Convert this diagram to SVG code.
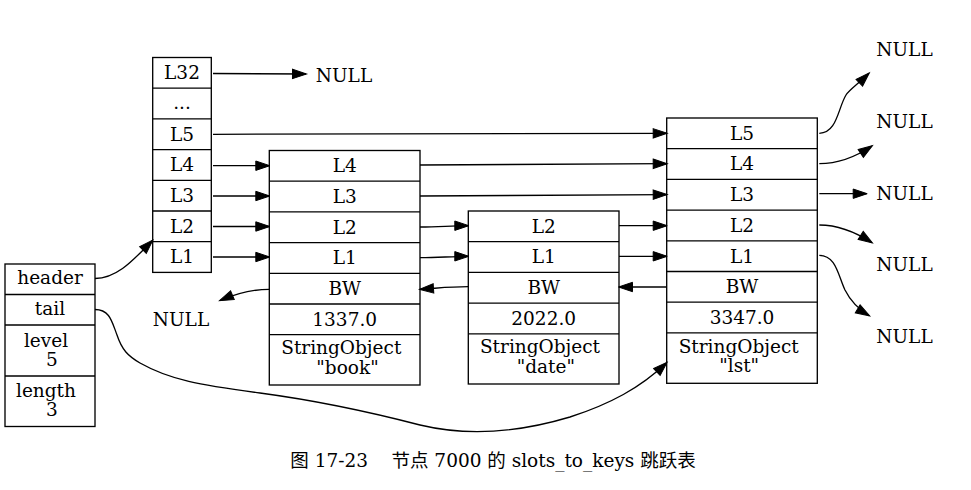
<svg xmlns="http://www.w3.org/2000/svg" width="971" height="490" viewBox="0 0 971 490">
<style>
.box{fill:none;stroke:#000;stroke-width:1.33}
.sep{stroke:#000;stroke-width:1.33}
.e{fill:none;stroke:#000;stroke-width:1.33}
text{font-family:"DejaVu Serif","Liberation Serif","Noto Sans CJK SC",serif;font-size:18.5px;fill:#000;text-anchor:middle}
.cap{white-space:pre}
</style>
<defs>
<marker id="arr" markerUnits="userSpaceOnUse" markerWidth="14" markerHeight="10" refX="13.5" refY="4.7" orient="auto" overflow="visible">
<path d="M0,0 L14,4.7 L0,9.4 z" fill="#000" stroke="#000" stroke-width="1"/>
</marker>
</defs>
<rect x="0" y="0" width="971" height="490" fill="#fff"/>

<g id="list">
<rect class="box" x="5" y="264" width="90" height="162.5"/>
<line class="sep" x1="5" y1="294.5" x2="95" y2="294.5"/>
<line class="sep" x1="5" y1="325" x2="95" y2="325"/>
<line class="sep" x1="5" y1="376" x2="95" y2="376"/>
<text x="50" y="284">header</text>
<text x="50" y="314.5">tail</text>
<text x="46" y="347">level</text>
<text x="52" y="365.5">5</text>
<text x="46" y="396.5">length</text>
<text x="52" y="415.5">3</text>
</g>

<g id="skiplist-header">
<rect class="box" x="152.7" y="57.5" width="58.6" height="214.9"/>
<line class="sep" x1="152.7" y1="88.2" x2="211.3" y2="88.2"/>
<line class="sep" x1="152.7" y1="118.9" x2="211.3" y2="118.9"/>
<line class="sep" x1="152.7" y1="149.6" x2="211.3" y2="149.6"/>
<line class="sep" x1="152.7" y1="180.3" x2="211.3" y2="180.3"/>
<line class="sep" x1="152.7" y1="211" x2="211.3" y2="211"/>
<line class="sep" x1="152.7" y1="241.7" x2="211.3" y2="241.7"/>
<text x="182" y="79.3">L32</text>
<text x="182" y="108.5">...</text>
<text x="182" y="140.7">L5</text>
<text x="182" y="171.4">L4</text>
<text x="182" y="202">L3</text>
<text x="182" y="232.7">L2</text>
<text x="182" y="263.4">L1</text>
</g>

<g id="node-book">
<rect class="box" x="269.3" y="150.5" width="150.7" height="234.5"/>
<line class="sep" x1="269.3" y1="181.2" x2="420" y2="181.2"/>
<line class="sep" x1="269.3" y1="211.9" x2="420" y2="211.9"/>
<line class="sep" x1="269.3" y1="242.6" x2="420" y2="242.6"/>
<line class="sep" x1="269.3" y1="273.3" x2="420" y2="273.3"/>
<line class="sep" x1="269.3" y1="304" x2="420" y2="304"/>
<line class="sep" x1="269.3" y1="334.7" x2="420" y2="334.7"/>
<text x="344.7" y="172.2">L4</text>
<text x="344.7" y="202.9">L3</text>
<text x="344.7" y="233.6">L2</text>
<text x="344.7" y="264.3">L1</text>
<text x="344.7" y="295">BW</text>
<text x="344.7" y="325.7">1337.0</text>
<text x="341.3" y="354.3">StringObject</text>
<text x="347.5" y="374">"book"</text>
</g>

<g id="node-date">
<rect class="box" x="468.3" y="211" width="150.7" height="173"/>
<line class="sep" x1="468.3" y1="241.7" x2="619" y2="241.7"/>
<line class="sep" x1="468.3" y1="272.4" x2="619" y2="272.4"/>
<line class="sep" x1="468.3" y1="303.1" x2="619" y2="303.1"/>
<line class="sep" x1="468.3" y1="333.8" x2="619" y2="333.8"/>
<text x="543.7" y="232.7">L2</text>
<text x="543.7" y="263.4">L1</text>
<text x="543.7" y="294.1">BW</text>
<text x="543.7" y="324.8">2022.0</text>
<text x="540" y="353.3">StringObject</text>
<text x="545.8" y="372.7">"date"</text>
</g>

<g id="node-lst">
<rect class="box" x="666.7" y="118" width="150.6" height="265.3"/>
<line class="sep" x1="666.7" y1="148.7" x2="817.3" y2="148.7"/>
<line class="sep" x1="666.7" y1="179.4" x2="817.3" y2="179.4"/>
<line class="sep" x1="666.7" y1="210.1" x2="817.3" y2="210.1"/>
<line class="sep" x1="666.7" y1="240.8" x2="817.3" y2="240.8"/>
<line class="sep" x1="666.7" y1="271.5" x2="817.3" y2="271.5"/>
<line class="sep" x1="666.7" y1="302.2" x2="817.3" y2="302.2"/>
<line class="sep" x1="666.7" y1="332.9" x2="817.3" y2="332.9"/>
<text x="742" y="139.7">L5</text>
<text x="742" y="170.4">L4</text>
<text x="742" y="201.1">L3</text>
<text x="742" y="231.8">L2</text>
<text x="742" y="262.5">L1</text>
<text x="742" y="293.2">BW</text>
<text x="742" y="323.9">3347.0</text>
<text x="738.7" y="352.7">StringObject</text>
<text x="739.2" y="372">"lst"</text>
</g>

<g id="null-l32"><text x="344" y="81.5">NULL</text></g>
<g id="null-bw"><text x="181" y="326">NULL</text></g>
<g id="null-r5"><text x="904.5" y="56">NULL</text></g>
<g id="null-r4"><text x="904.5" y="128.3">NULL</text></g>
<g id="null-r3"><text x="904.5" y="200">NULL</text></g>
<g id="null-r2"><text x="904.5" y="270.7">NULL</text></g>
<g id="null-r1"><text x="904.5" y="343.3">NULL</text></g>

<g id="connectors" marker-end="url(#arr)">
<path class="e" d="M95,278.5 C118,278.5 135,258 152.5,240.5"/>
<path class="e" d="M95,309.5 C110,309.5 112,322 117,335 C122,350 128,356 140,363 C170,380 200,385 260,393 C320,401 370,412 420,425 C470,437 520,432 570,417 C610,404 640,388 666.7,362.7"/>
<path class="e" d="M213,73.5 L306,74"/>
<path class="e" d="M213,134.3 L666.7,133.3"/>
<path class="e" d="M213,165.7 L269.3,165.7"/>
<path class="e" d="M213,196 L269.3,196"/>
<path class="e" d="M213,226.5 L269.3,226.5"/>
<path class="e" d="M213,257 L269.3,257"/>
<path class="e" d="M420,165 L666.7,163.7"/>
<path class="e" d="M420,196 L666.7,194.6"/>
<path class="e" d="M420,227 C440,227 450,225.7 468.3,225.7"/>
<path class="e" d="M420,257.7 C440,257.7 450,256.3 468.3,256.3"/>
<path class="e" d="M468.3,286.7 C450,286.7 440,288 420,289.3"/>
<path class="e" d="M269.3,289.3 C255,289.3 240,292 220,300.5"/>
<path class="e" d="M619,225.7 L666.7,225.7"/>
<path class="e" d="M619,256.3 L666.7,256.3"/>
<path class="e" d="M666.7,287 L619,287"/>
<path class="e" d="M819.3,133.3 C837,133.3 838,108 846,95 C849,90 858,84 869,73.3"/>
<path class="e" d="M819.3,163.7 C838,163.7 857,156 872,146"/>
<path class="e" d="M819.3,193.7 L866.7,193.7"/>
<path class="e" d="M819.3,225 C838,225 857,233 872,242.7"/>
<path class="e" d="M819.3,255.3 C836,255.3 838,275 845,290 C851,302 858,309 869.3,315.7"/>
</g>

<g id="caption"><text class="cap" x="493" y="467">图 17-23    节点 7000 的 slots_to_keys 跳跃表</text></g>
</svg>
